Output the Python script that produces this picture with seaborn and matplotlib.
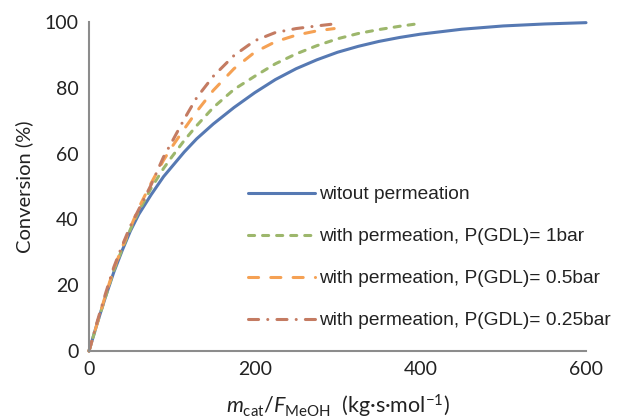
import matplotlib
matplotlib.use("Agg")
import matplotlib.pyplot as plt
import seaborn as sns
import pandas as pd

# ---- data ----
x_blue = [0, 10, 20, 30, 40, 50, 60, 75, 90, 100, 115, 130, 150, 175, 200, 225, 250,
          275, 300, 325, 350, 375, 400, 450, 500, 550, 600]
y_blue = [0, 8.5, 16.5, 24, 30.5, 36.5, 41.5, 47.5, 53, 56, 60.5, 64.5, 69, 74, 78.5,
          82.5, 85.8, 88.5, 90.8, 92.6, 94.1, 95.3, 96.3, 97.8, 98.8, 99.4, 99.8]

x_green = [0, 10, 20, 30, 40, 50, 60, 75, 90, 100, 115, 130, 150, 175, 200, 225, 250,
           275, 300, 325, 350, 375, 395]
y_green = [0, 8.5, 16.5, 24.5, 31, 37, 42.5, 49.5, 55.5, 59, 64, 68.5, 74, 79.5, 83.5,
           87.3, 90.3, 92.8, 94.9, 96.5, 97.7, 98.7, 99.4]

x_orange = [0, 10, 20, 30, 40, 50, 60, 75, 90, 100, 115, 130, 150, 175, 200, 225, 250,
            275, 296]
y_orange = [0, 8.5, 17, 25, 31.5, 37.5, 43.5, 51, 58, 62, 67.5, 72.8, 79.2, 85.8, 90.8,
            94, 96, 97.3, 98]

x_brown = [0, 10, 20, 30, 40, 50, 60, 75, 90, 100, 115, 130, 150, 175, 200, 225, 250,
           275, 292]
y_brown = [0, 9, 17.5, 25.5, 32, 38, 43, 50.5, 59, 63.5, 70.5, 77, 83.5, 89.8, 94.3,
           96.8, 98, 98.8, 99.3]

labels = ["witout permeation",
          "with permeation, P(GDL)= 1bar",
          "with permeation, P(GDL)= 0.5bar",
          "with permeation, P(GDL)= 0.25bar"]
colors = ["#5679B3", "#9DB76C", "#F5A154", "#C47B62"]
dash_patterns = [None, (2.0, 2.6), (3.3, 4.0), (3.3, 3.0, 0.01, 3.0)]

xticks = [0, 200, 400, 600]
yticks = [0, 20, 40, 60, 80, 100]

sns.set_style("white")
plt.rcParams['font.family'] = ['Lato', 'DejaVu Sans']
plt.rcParams['mathtext.fontset'] = 'custom'
plt.rcParams['mathtext.it'] = 'Lato:italic'
plt.rcParams['mathtext.rm'] = 'Lato'

fig = plt.figure(figsize=(6.23, 4.18), dpi=100)
ax = fig.add_axes([89/623, 1 - 351/418, (586 - 89)/623, (351 - 22)/418])

series = [(x_blue, y_blue), (x_green, y_green), (x_orange, y_orange), (x_brown, y_brown)]
for (xs, ys), lab, col, dp in zip(series, labels, colors, dash_patterns):
    df = pd.DataFrame({"x": xs, "y": ys})
    sns.lineplot(data=df, x="x", y="y", ax=ax, color=col, lw=2.2,
                 label=lab, clip_on=False)
    line = ax.lines[-1]
    if dp is not None:
        line.set_dashes(dp)
        line.set_dash_capstyle('round')

ax.set_xlim(0, 600)
ax.set_ylim(0, 100)
ax.set_xticks(xticks)
ax.set_yticks(yticks)
ax.set_xticklabels([str(t) for t in xticks])
ax.set_yticklabels([str(t) for t in yticks])

for s in ["top", "right"]:
    ax.spines[s].set_visible(False)
for s in ["left", "bottom"]:
    ax.spines[s].set_color("#8c8c8c")
    ax.spines[s].set_linewidth(1.5)
ax.tick_params(axis="both", direction="out", length=4.5, width=1.5, color="#8c8c8c",
               labelsize=14, labelcolor="#222222", pad=3)

ax.set_ylabel("Conversion (%)", fontsize=14.5, color="#222222", labelpad=8)
ax.set_xlabel(r"$m_{\mathrm{cat}}$/$F_{\mathrm{MeOH}}$  (kg·s·mol$^{\mathrm{-1}}$)",
              fontsize=15.5, color="#222222", labelpad=10)

leg = ax.legend(loc="upper left", bbox_to_anchor=((248 - 89) / 497, (351 - 186) / 329),
                frameon=False, borderpad=0, borderaxespad=0,
                handlelength=3.5, handletextpad=0.2, labelspacing=1.28,
                prop={"family": "Liberation Sans", "size": 13.8})
for t in leg.get_texts():
    t.set_color("#222222")

fig.savefig("out.png", dpi=100)
